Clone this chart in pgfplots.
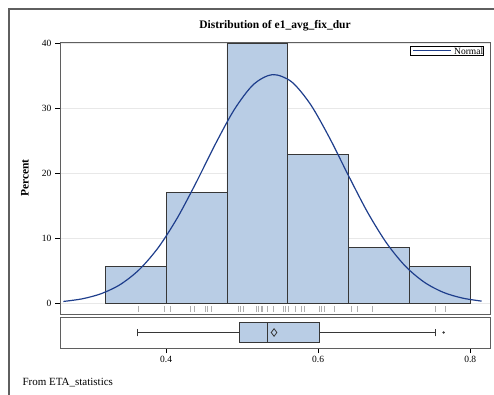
\documentclass[border=0pt]{standalone}
\usepackage{fontspec}
\setmainfont{Liberation Serif}
\usepackage{pgfplots}
\pgfplotsset{compat=1.18}
\usepgfplotslibrary{statistics}
\definecolor{barfill}{RGB}{185,205,229}
\definecolor{baredge}{RGB}{55,55,55}
\definecolor{curvecol}{RGB}{30,62,140}
\definecolor{axisgray}{RGB}{95,95,95}
\definecolor{gridgray}{RGB}{232,232,232}
\definecolor{ruggray}{RGB}{175,175,175}
\begin{document}
\begin{tikzpicture}[x=1pt,y=1pt]
\useasboundingbox (0,0) rectangle (494,-394);
\draw[axisgray, line width=1.2pt] (500,-9) -- (9,-9) -- (9,-400);
\begin{axis}[
  at={(60pt,-314pt)}, anchor=south west, scale only axis,
  width=430pt, height=272pt,
  xmin=0.2605, xmax=0.826, ymin=-1.6, ymax=40.2,
  xtick=\empty, ytick={0,10,20,30,40}, ytick pos=left,
  tick align=outside, major tick length=5pt,
  tick style={black, line width=0.6pt},
  ymajorgrids, grid style={draw=gridgray, line width=0.6pt},
  axis line style={draw=axisgray, line width=0.9pt},
  /pgf/number format/assume math mode=true,
  yticklabel style={font=\fontsize{9.5}{10}\selectfont},
]
\addplot[ybar interval, fill=barfill, draw=baredge, line width=0.8pt, forget plot] coordinates {
  (0.32,5.714) (0.40,17.143) (0.48,40.0) (0.56,22.857) (0.64,8.571) (0.72,5.714) (0.80,5.714)
};
\addplot[only marks, mark=|, mark size=3.2pt, ruggray, mark options={line width=0.6pt}, forget plot] coordinates {
  (0.363,-0.85) (0.398,-0.85) (0.406,-0.85) (0.432,-0.85) (0.437,-0.85) (0.451,-0.85)
  (0.454,-0.85) (0.460,-0.85) (0.495,-0.85) (0.498,-0.85) (0.502,-0.85) (0.519,-0.85)
  (0.521,-0.85) (0.525,-0.85) (0.527,-0.85) (0.533,-0.85) (0.541,-0.85) (0.554,-0.85)
  (0.557,-0.85) (0.561,-0.85) (0.570,-0.85) (0.578,-0.85) (0.582,-0.85) (0.602,-0.85)
  (0.604,-0.85) (0.608,-0.85) (0.621,-0.85) (0.644,-0.85) (0.651,-0.85) (0.671,-0.85)
  (0.754,-0.85) (0.767,-0.85)
};
\addplot[smooth, curvecol, line width=1.2pt] coordinates {
  (0.265,0.33) (0.29,0.74) (0.315,1.54) (0.34,2.95) (0.365,5.25) (0.39,8.65)
  (0.415,13.21) (0.44,18.71) (0.465,24.55) (0.49,29.87) (0.515,33.68) (0.54,35.19)
  (0.565,34.09) (0.59,30.60) (0.615,25.46) (0.64,19.64) (0.665,14.03) (0.69,9.30)
  (0.715,5.71) (0.74,3.25) (0.765,1.71) (0.79,0.84) (0.815,0.38)
};
\end{axis}
\begin{axis}[
  at={(60pt,-348pt)}, anchor=south west, scale only axis,
  width=430pt, height=31pt,
  xmin=0.2605, xmax=0.826, ymin=0, ymax=2,
  ytick=\empty, xtick={0.4,0.6,0.8}, xticklabels={0.4,0.6,0.8}, xtick pos=bottom,
  tick align=outside, major tick length=5pt,
  tick style={black, line width=0.6pt},
  axis line style={draw=axisgray, line width=0.9pt},
  xticklabel style={font=\fontsize{9.5}{10}\selectfont},
]
\addplot[fill=barfill, draw=baredge, line width=0.8pt,
  boxplot prepared={lower whisker=0.362, lower quartile=0.496, median=0.533,
    upper quartile=0.601, upper whisker=0.754, draw position=1,
    box extend=1.25, whisker extend=0.5, draw direction=x}] coordinates {};
\addplot[only marks, mark=diamond, mark size=3.8pt, baredge, mark options={line width=0.8pt}] coordinates {(0.542,1)};
\addplot[only marks, mark=*, mark size=0.9pt, baredge] coordinates {(0.765,1)};
\end{axis}
\node[draw=black, line width=0.6pt, anchor=north east, inner xsep=0pt, inner ysep=1.2pt,
  font=\fontsize{9.5}{10}\selectfont] at (483.5,-46)
  {\hspace{3pt}{\color{curvecol}\rule[0.28em]{38pt}{1.4pt}}\hspace{3pt}Normal\hspace{2.5pt}};
\node[font=\fontsize{11.5}{12}\selectfont\bfseries] at (275,-25.5) {Distribution of e1\_avg\_fix\_dur};
\node[font=\fontsize{11.5}{12}\selectfont\bfseries, rotate=90] at (25,-178) {Percent};
\node[font=\fontsize{11}{12}\selectfont, anchor=base west] at (19,-385) {From ETA\_statistics};
\end{tikzpicture}
\end{document}
